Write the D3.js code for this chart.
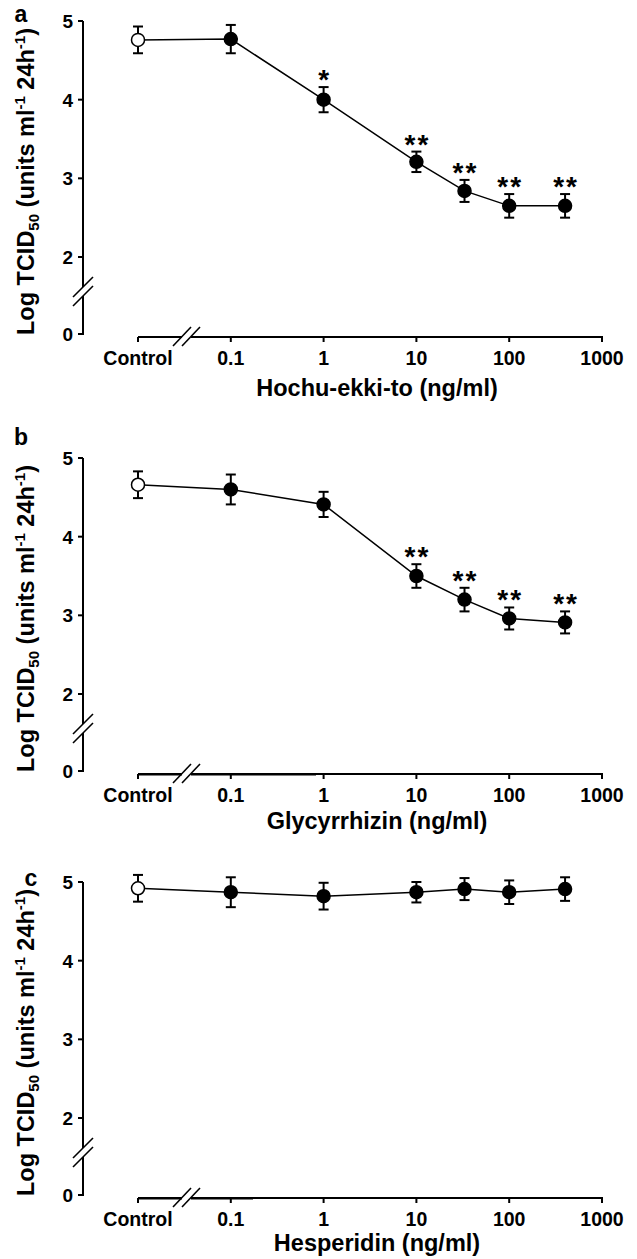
<!DOCTYPE html>
<html lang="en">
<head>
<meta charset="utf-8">
<script src="https://cdn.jsdelivr.net/npm/d3@7"></script>
<style type="text/css">
body { margin: 0; background: #fff; }
svg text { font-family: "Liberation Sans", Arial, sans-serif; font-weight: bold; fill: #000; }
</style>
</head>
<body>
<script type="text/javascript">

// doses (ng/ml), control is drawn one decade below 0.1
var doseLabels = ["Control", "0.1", "1", "10", "33", "100", "400"];
var doses = [0.01, 0.1, 1, 10, 33, 100, 400];
var xTickValues = [0.01, 0.1, 1, 10, 100, 1000];
var xTickLabels = ["Control", "0.1", "1", "10", "100", "1000"];
var yTickValues = [0, 2, 3, 4, 5];

// panel a - Hochu-ekki-to
var hochuMean = [4.76, 4.77, 4.00, 3.21, 2.84, 2.65, 2.65];
var hochuErr  = [0.17, 0.18, 0.16, 0.13, 0.14, 0.15, 0.15];
var hochuSig  = ["", "", "*", "**", "**", "**", "**"];

// panel b - Glycyrrhizin
var glyMean = [4.66, 4.60, 4.41, 3.50, 3.20, 2.96, 2.91];
var glyErr  = [0.17, 0.19, 0.16, 0.15, 0.15, 0.14, 0.14];
var glySig  = ["", "", "", "**", "**", "**", "**"];

// panel c - Hesperidin
var hesMean = [4.92, 4.87, 4.82, 4.87, 4.91, 4.87, 4.91];
var hesErr  = [0.17, 0.19, 0.17, 0.13, 0.14, 0.15, 0.15];
var hesSig  = ["", "", "", "", "", "", ""];

var width = 637, height = 1259;

var svg = d3.select("body").append("svg")
	.attr("width", width)
	.attr("height", height);

var panels = [
	{letter: "a", title: "Hochu-ekki-to (ng/ml)", mean: hochuMean, err: hochuErr, sig: hochuSig,
	 top: 21, letterX: 21, letterY: 22, titleY: 396, heavyTo: null},
	{letter: "b", title: "Glycyrrhizin (ng/ml)", mean: glyMean, err: glyErr, sig: glySig,
	 top: 458, letterX: 21, letterY: 445, titleY: 829, heavyTo: 316},
	{letter: "c", title: "Hesperidin (ng/ml)", mean: hesMean, err: hesErr, sig: hesSig,
	 top: 882, letterX: 31, letterY: 886, titleY: 1251, heavyTo: 253}
];

var axisX = 83;        // y axis position
var plotH = 313;       // 5 -> 0 distance
var x = d3.scaleLog().domain([0.01, 1000]).range([138, 602]);

panels.forEach(function(p) {
	var y0 = p.top + plotH;
	// broken axis: 0..2 squeezed, 2..5 linear
	var y = d3.scaleLinear().domain([0, 2, 5]).range([y0, y0 - 77, p.top]);
	var xAxisY = y0 + 3;
	var g = svg.append("g");

	// ---- y axis with break ----
	var brkTop = y0 - 47, brkBot = y0 - 38;
	g.append("line").attr("x1", axisX).attr("x2", axisX)
		.attr("y1", y(5)).attr("y2", brkTop)
		.attr("stroke", "#000").attr("stroke-width", 2);
	g.append("line").attr("x1", axisX).attr("x2", axisX)
		.attr("y1", brkBot).attr("y2", y0 + 1)
		.attr("stroke", "#000").attr("stroke-width", 2);
	[brkTop, brkBot].forEach(function(c) {
		g.append("line")
			.attr("x1", axisX - 10).attr("y1", c + 10)
			.attr("x2", axisX + 10).attr("y2", c - 10)
			.attr("stroke", "#000").attr("stroke-width", 1.6);
	});
	g.selectAll(".ytick").data(yTickValues).enter().append("line")
		.attr("x1", axisX - 5).attr("x2", axisX)
		.attr("y1", function(d) { return y(d); })
		.attr("y2", function(d) { return y(d); })
		.attr("stroke", "#000").attr("stroke-width", 2);
	g.selectAll(".ylab").data(yTickValues).enter().append("text")
		.attr("x", axisX - 10)
		.attr("y", function(d) { return y(d) + 7; })
		.attr("text-anchor", "end")
		.style("font-size", "19px")
		.text(function(d) { return d; });

	// ---- x axis with break ----
	var bx1 = 182, bx2 = 191;
	g.append("line").attr("x1", x(0.01)).attr("x2", bx1)
		.attr("y1", xAxisY).attr("y2", xAxisY)
		.attr("stroke", "#000").attr("stroke-width", 2);
	g.append("line").attr("x1", bx2).attr("x2", x(1000) + 1)
		.attr("y1", xAxisY).attr("y2", xAxisY)
		.attr("stroke", "#000").attr("stroke-width", 2);
	if (p.heavyTo) {
		// slightly heavier stretch of the axis seen in the original scan
		g.append("line").attr("x1", x(0.01)).attr("x2", bx1)
			.attr("y1", xAxisY + 0.4).attr("y2", xAxisY + 0.4)
			.attr("stroke", "#000").attr("stroke-width", 2.4);
		g.append("line").attr("x1", bx2).attr("x2", p.heavyTo)
			.attr("y1", xAxisY + 0.4).attr("y2", xAxisY + 0.4)
			.attr("stroke", "#000").attr("stroke-width", 2.4);
	}
	[bx1, bx2].forEach(function(c) {
		g.append("line")
			.attr("x1", c - 9).attr("y1", xAxisY + 9)
			.attr("x2", c + 9).attr("y2", xAxisY - 10)
			.attr("stroke", "#000").attr("stroke-width", 1.6);
	});
	g.selectAll(".xtick").data(xTickValues).enter().append("line")
		.attr("x1", function(d) { return x(d); })
		.attr("x2", function(d) { return x(d); })
		.attr("y1", xAxisY).attr("y2", xAxisY + 5)
		.attr("stroke", "#000").attr("stroke-width", 2);
	g.selectAll(".xlab").data(xTickLabels).enter().append("text")
		.attr("x", function(d, i) { return x(xTickValues[i]); })
		.attr("y", xAxisY + 28)
		.attr("text-anchor", "middle")
		.style("font-size", "19.5px")
		.text(function(d) { return d; });

	// x title
	g.append("text")
		.attr("x", 377).attr("y", p.titleY)
		.attr("text-anchor", "middle")
		.style("font-size", "23.5px")
		.text(p.title);

	// y title
	var yt = g.append("text")
		.attr("transform", "translate(34," + ((p.top + y0) / 2 + 4) + ") rotate(-90)")
		.attr("text-anchor", "middle")
		.style("font-size", "23.5px");
	yt.append("tspan").text("Log TCID");
	yt.append("tspan").attr("dy", 5).style("font-size", "15px").text("50");
	yt.append("tspan").attr("dy", -5).text(" (units ml");
	yt.append("tspan").attr("dy", -9).style("font-size", "15px").text("-1");
	yt.append("tspan").attr("dy", 9).text(" 24h");
	yt.append("tspan").attr("dy", -9).style("font-size", "15px").text("-1");
	yt.append("tspan").attr("dy", 9).text(")");

	// panel letter
	g.append("text")
		.attr("x", p.letterX).attr("y", p.letterY)
		.attr("text-anchor", "middle")
		.style("font-size", "23px")
		.text(p.letter);

	// ---- data ----
	var pts = doses.map(function(d, i) {
		return {x: d, m: p.mean[i], e: p.err[i], s: p.sig[i], ctrl: i === 0};
	});

	var line = d3.line()
		.x(function(d) { return x(d.x); })
		.y(function(d) { return y(d.m); });
	g.append("path").datum(pts)
		.attr("d", line)
		.attr("fill", "none")
		.attr("stroke", "#000")
		.attr("stroke-width", 1.5);

	var eb = g.selectAll(".eb").data(pts).enter().append("g");
	eb.append("line")
		.attr("x1", function(d) { return x(d.x); })
		.attr("x2", function(d) { return x(d.x); })
		.attr("y1", function(d) { return y(d.m + d.e); })
		.attr("y2", function(d) { return y(d.m - d.e); })
		.attr("stroke", "#000").attr("stroke-width", 2);
	[1, -1].forEach(function(sg) {
		eb.append("line")
			.attr("x1", function(d) { return x(d.x) - 5; })
			.attr("x2", function(d) { return x(d.x) + 5; })
			.attr("y1", function(d) { return y(d.m + sg * d.e); })
			.attr("y2", function(d) { return y(d.m + sg * d.e); })
			.attr("stroke", "#000").attr("stroke-width", 2);
	});

	g.selectAll(".pt").data(pts).enter().append("circle")
		.attr("cx", function(d) { return x(d.x); })
		.attr("cy", function(d) { return y(d.m); })
		.attr("r", 6.5)
		.attr("fill", function(d) { return d.ctrl ? "#fff" : "#000"; })
		.attr("stroke", "#000")
		.attr("stroke-width", 1.5);

	g.selectAll(".sig").data(pts.filter(function(d) { return d.s; })).enter().append("text")
		.attr("x", function(d) { return x(d.x) + 1; })
		.attr("y", function(d) { return y(d.m + d.e) + 2; })
		.attr("text-anchor", "middle")
		.attr("letter-spacing", "2px")
		.style("font-size", "28px")
		.text(function(d) { return d.s; });
});

</script>
</body>
</html>
